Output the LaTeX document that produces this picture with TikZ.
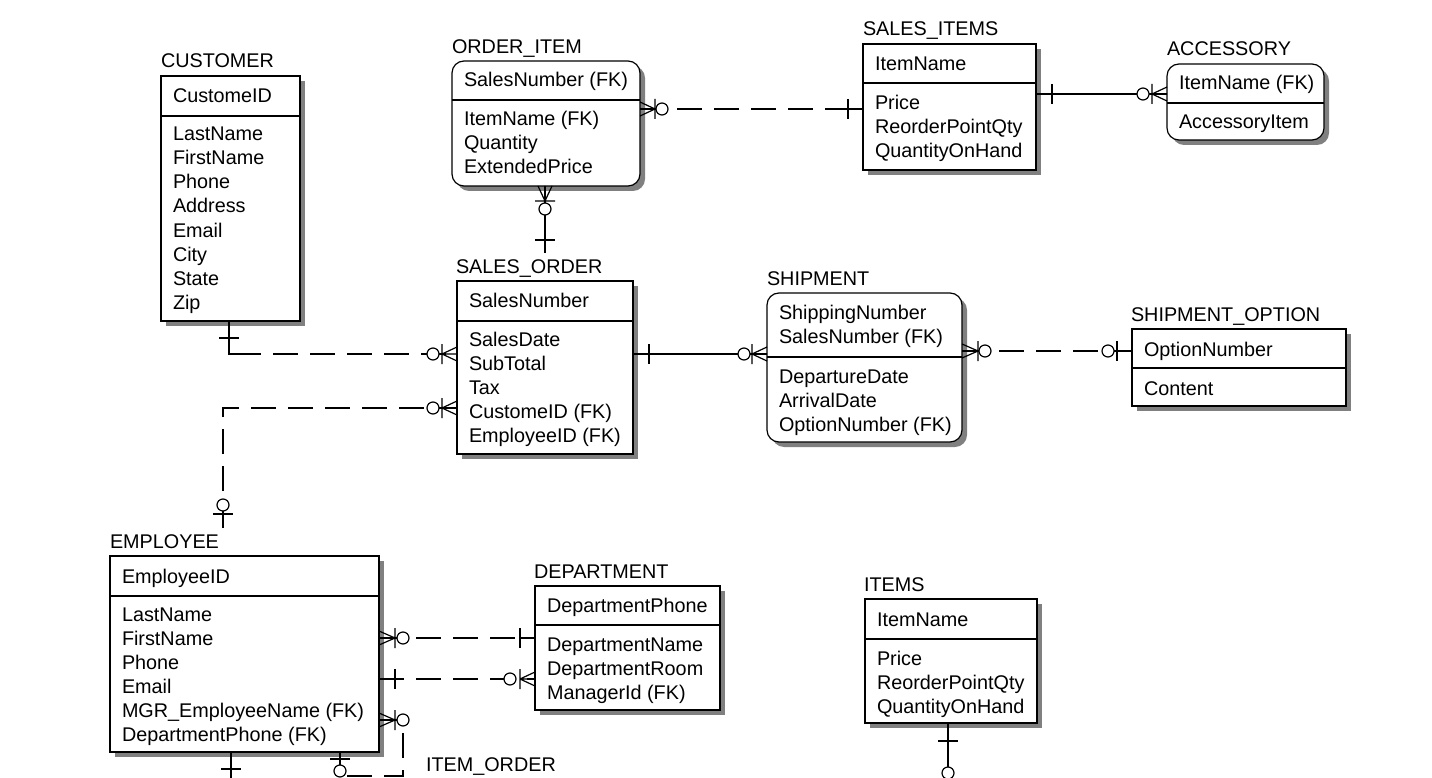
\documentclass[tikz,border=0pt]{standalone}
\usepackage{fontspec}
\setmainfont{Liberation Sans}
\usetikzlibrary{shadows}
\newcommand\erOneH[3]{\draw[mk] (#1,#2-10) -- (#1,#2+10) (#1,#2) -- (#3,#2);}
\newcommand\erOneV[3]{\draw[mk] (#1-10,#2) -- (#1+10,#2) (#1,#2) -- (#1,#3);}
\newcommand\erManyH[3]{\draw[mk] (#1,#2-10) -- (#1,#2+10) (#1,#2) -- (#3,#2-7) (#1,#2) -- (#3,#2+7) (#1,#2) -- (#3,#2);}
\newcommand\erManyV[3]{\draw[mk] (#1-10,#2) -- (#1+10,#2) (#1,#2) -- (#1-7,#3) (#1,#2) -- (#1+7,#3) (#1,#2) -- (#1,#3);}
\newcommand\erCirc[2]{\draw[mk,fill=white] (#1,#2) circle[radius=6];}
\newcommand\erRows[4]{\foreach \t [count=\i from 0] in {#4} {\node[txt] (#1\i) at (#2,#3+24*\i) {\t};}}
\begin{document}
\begin{tikzpicture}[x=1pt,y=-1pt,
  every node/.style={font=\fontsize{19.8}{24}\selectfont},
  txt/.style={anchor=base west,inner sep=0pt,outer sep=0pt},
  ebox/.style={draw,fill=white,line width=1.2pt,anchor=north west,inner sep=0pt,outer sep=0pt,
    drop shadow={shadow xshift=5pt,shadow yshift=-5pt,fill=black!50,draw=none,opacity=1}},
  rbox/.style={ebox,rounded corners=12pt},
  sl/.style={line width=1.2pt},
  dl/.style={line width=1.2pt,dash pattern=on 25pt off 12pt},
  mk/.style={solid,line width=1.2pt},
  dv/.style={line width=1.2pt}]
\useasboundingbox (0,0) rectangle (1432,778);
\fill[white] (0,0) rectangle (1432,778);
\clip (0,0) rectangle (1432,778);

% ---------- entity boxes ----------
\node[ebox,minimum width=139pt,minimum height=245pt] (cust) at (161,76) {};
\node[rbox,minimum width=188pt,minimum height=125pt] (oi) at (452,61) {};
\node[ebox,minimum width=173pt,minimum height=126pt] (si) at (863,44) {};
\node[rbox,minimum width=157pt,minimum height=76pt] (acc) at (1167,64) {};
\node[ebox,minimum width=176pt,minimum height=173pt] (so) at (457,281) {};
\node[rbox,minimum width=195pt,minimum height=149pt] (ship) at (767,293) {};
\node[ebox,minimum width=214pt,minimum height=77pt] (shopt) at (1132,329) {};
\node[ebox,minimum width=269pt,minimum height=196pt] (emp) at (110,556) {};
\node[ebox,minimum width=185pt,minimum height=124pt] (dept) at (535,586) {};
\node[ebox,minimum width=172pt,minimum height=124pt] (items) at (865,599) {};

% dividers
\draw[dv] (cust.west |- 0,116) -- (cust.east |- 0,116);
\draw[dv] (oi.west |- 0,100) -- (oi.east |- 0,100);
\draw[dv] (si.west |- 0,83) -- (si.east |- 0,83);
\draw[dv] (acc.west |- 0,103) -- (acc.east |- 0,103);
\draw[dv] (so.west |- 0,321) -- (so.east |- 0,321);
\draw[dv] (ship.west |- 0,357) -- (ship.east |- 0,357);
\draw[dv] (shopt.west |- 0,368) -- (shopt.east |- 0,368);
\draw[dv] (emp.west |- 0,596) -- (emp.east |- 0,596);
\draw[dv] (dept.west |- 0,625) -- (dept.east |- 0,625);
\draw[dv] (items.west |- 0,639) -- (items.east |- 0,639);

% ---------- titles ----------
\node[txt] (custT) at (161,68) {CUSTOMER};
\node[txt] (oiT) at (452,54) {ORDER\_ITEM};
\node[txt] (siT) at (863,36) {SALES\_ITEMS};
\node[txt] (accT) at (1167,56) {ACCESSORY};
\node[txt] (soT) at (456,273) {SALES\_ORDER};
\node[txt] (shipT) at (767,285) {SHIPMENT};
\node[txt] (shoptT) at (1131,321) {SHIPMENT\_OPTION};
\node[txt] (empT) at (110,548) {EMPLOYEE};
\node[txt] (deptT) at (534,578) {DEPARTMENT};
\node[txt] (itemsT) at (864,591) {ITEMS};
\node[txt] (ioT) at (426,771) {ITEM\_ORDER};

% ---------- attributes ----------
\erRows{custK}{173}{103}{CustomeID}
\erRows{custA}{173}{141}{LastName,FirstName,Phone,Address,Email,City,State,Zip}
\erRows{oiK}{464}{87}{SalesNumber (FK)}
\erRows{oiA}{464}{126}{ItemName (FK),Quantity,ExtendedPrice}
\erRows{siK}{875}{71}{ItemName}
\erRows{siA}{875}{110}{Price,ReorderPointQty,QuantityOnHand}
\erRows{accK}{1179}{90}{ItemName (FK)}
\erRows{accA}{1179}{129}{AccessoryItem}
\erRows{soK}{469}{307}{SalesNumber}
\erRows{soA}{469}{346}{SalesDate,SubTotal,Tax,CustomeID (FK),EmployeeID (FK)}
\erRows{shipK}{779}{319}{ShippingNumber,SalesNumber (FK)}
\erRows{shipA}{779}{383}{DepartureDate,ArrivalDate,OptionNumber (FK)}
\erRows{shoptK}{1144}{356}{OptionNumber}
\erRows{shoptA}{1144}{395}{Content}
\erRows{empK}{122}{583}{EmployeeID}
\erRows{empA}{122}{621}{LastName,FirstName,Phone,Email,MGR\_EmployeeName (FK),DepartmentPhone (FK)}
\erRows{deptK}{547}{612}{DepartmentPhone}
\erRows{deptA}{547}{651}{DepartmentName,DepartmentRoom,ManagerId (FK)}
\erRows{itemsK}{877}{626}{ItemName}
\erRows{itemsA}{877}{665}{Price,ReorderPointQty,QuantityOnHand}

% ---------- connectors ----------
\coordinate (c4) at (236,354);
\coordinate (soTop) at (545,253);
\coordinate (empTop) at (223,528);
\coordinate (selfc) at (403,776);
\coordinate (io1) at (231,800);
\coordinate (io2) at (948,800);

\draw[dl] (oi.east |- 0,109) -- (si.west |- 0,109);
\draw[sl] (si.east |- 0,94) -- (acc.west |- 0,94);
\draw[sl] (oi.south -| soTop) -- (soTop);
\draw[sl] (cust.south -| 229,0) |- (c4);
\draw[dl] (c4) -- (so.west |- 0,354);
\draw[dl] (empTop) |- (so.west |- 0,408);
\draw[sl] (so.east |- 0,354) -- (ship.west |- 0,354);
\draw[dl] (ship.east |- 0,351) -- (shopt.west |- 0,351);
\draw[dl] (emp.east |- 0,638) -- (dept.west |- 0,638);
\draw[dl] (emp.east |- 0,679) -- (dept.west |- 0,679);
\draw[dl] (emp.east |- 0,720) -| (selfc) -| (emp.south -| 340,0);
\draw[sl] (emp.south -| 231,0) -- (io1);
\draw[sl] (items.south -| 948,0) -- (io2);

% ---------- markers ----------
% ORDER_ITEM - SALES_ITEMS
\erManyH{655}{109}{640}\erCirc{662}{109}
\erOneH{848}{109}{863}
% SALES_ITEMS - ACCESSORY
\erOneH{1052}{94}{1036}
\erManyH{1152}{94}{1167}\erCirc{1143}{94}
% ORDER_ITEM - SALES_ORDER
\erManyV{545}{201}{186}\erCirc{545}{209}
\erOneV{545}{240}{253}
% CUSTOMER - SALES_ORDER
\erOneV{229}{338}{321}
\erManyH{442}{354}{457}\erCirc{433}{354}
% EMPLOYEE - SALES_ORDER
\erOneV{223}{514}{528}\erCirc{223}{505}
\erManyH{442}{408}{457}\erCirc{433}{408}
% SALES_ORDER - SHIPMENT
\erOneH{649}{354}{633}
\erManyH{752}{354}{767}\erCirc{744}{354}
% SHIPMENT - SHIPMENT_OPTION
\erManyH{978}{351}{962}\erCirc{985}{351}
\erOneH{1117}{351}{1132}\erCirc{1108}{351}
% EMPLOYEE - DEPARTMENT
\erManyH{395}{638}{379}\erCirc{403}{638}
\erOneH{520}{638}{535}
\erOneH{395}{679}{379}
\erManyH{520}{679}{535}\erCirc{510}{679}
% EMPLOYEE self
\erManyH{395}{720}{379}\erCirc{403}{720}
\erOneV{340}{759}{752}\erCirc{340}{771}
% EMPLOYEE - ITEM_ORDER
\erOneV{231}{769}{752}
% ITEMS down
\erOneV{948}{741}{723}\erCirc{948}{773}
\end{tikzpicture}
\end{document}
